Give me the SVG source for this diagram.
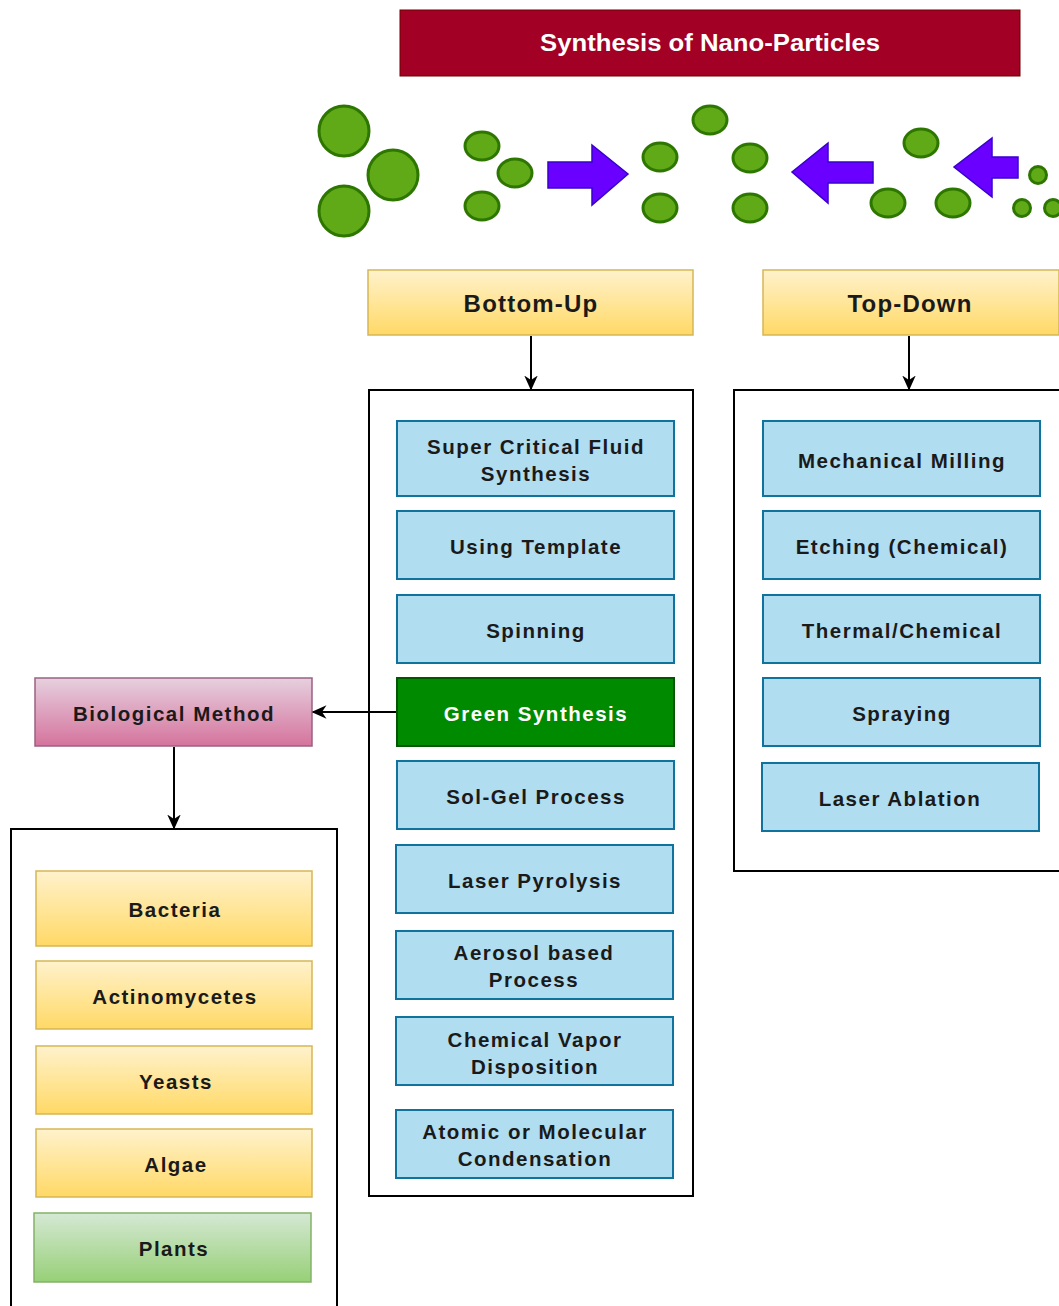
<svg xmlns="http://www.w3.org/2000/svg" width="1059" height="1306" viewBox="0 0 1059 1306">
<defs>
<linearGradient id="gY" x1="0" y1="0" x2="0" y2="1"><stop offset="0" stop-color="#fff2cc"/><stop offset="1" stop-color="#ffd966"/></linearGradient>
<linearGradient id="gP" x1="0" y1="0" x2="0" y2="1"><stop offset="0" stop-color="#e6d0de"/><stop offset="1" stop-color="#d5739d"/></linearGradient>
<linearGradient id="gG" x1="0" y1="0" x2="0" y2="1"><stop offset="0" stop-color="#d5e8d4"/><stop offset="1" stop-color="#97d077"/></linearGradient>
<marker id="ah" viewBox="0 0 10 10" refX="9" refY="5" markerWidth="15" markerHeight="15" orient="auto" markerUnits="userSpaceOnUse">
<path d="M0,0.5 L10,5 L0,9.5 L3,5 Z" fill="#000"/>
</marker>
</defs>
<style>
text{font-family:"Liberation Sans",Arial,sans-serif;font-weight:bold;text-anchor:middle;dominant-baseline:central;fill:#1a1a1a;font-size:20.5px;letter-spacing:1.5px}
.y{fill:url(#gY);stroke:#d6b656;stroke-width:1.5}
.b{fill:#b1ddf0;stroke:#10739e;stroke-width:2}
.c{fill:#fff;stroke:#000;stroke-width:2}
.p{fill:#60a917;stroke:#2d7600;stroke-width:3}
.ar{fill:#6a00ff;stroke:#3700cc;stroke-width:1.5}
.cn{stroke:#000;stroke-width:2;fill:none;marker-end:url(#ah)}
</style>
<rect width="1059" height="1306" fill="#fff"/>
<g id="title"><rect x="400" y="10" width="620" height="66" fill="#a20025" stroke="#6f0000" stroke-width="1"/><text x="710" y="43" style="fill:#fff;font-size:23px;letter-spacing:0" textLength="340" lengthAdjust="spacingAndGlyphs">Synthesis of Nano-Particles</text></g>
<g id="particles">
<circle class="p" cx="344" cy="131" r="25"/><circle class="p" cx="393" cy="175" r="25"/><circle class="p" cx="344" cy="211" r="25"/>
<ellipse class="p" cx="482" cy="146" rx="17" ry="14"/><ellipse class="p" cx="515" cy="173" rx="17" ry="14"/><ellipse class="p" cx="482" cy="206" rx="17" ry="14"/>
<path class="ar" d="M548,162 L592,162 L592,145 L628,174 L592,205 L592,188 L548,188 Z"/>
<ellipse class="p" cx="660" cy="157" rx="17" ry="14"/><ellipse class="p" cx="660" cy="208" rx="17" ry="14"/>
<ellipse class="p" cx="710" cy="120" rx="17" ry="14"/><ellipse class="p" cx="750" cy="158" rx="17" ry="14"/><ellipse class="p" cx="750" cy="208" rx="17" ry="14"/>
<path class="ar" d="M873,162 L828,162 L828,143 L792,172 L828,203 L828,183 L873,183 Z"/>
<ellipse class="p" cx="888" cy="203" rx="17" ry="14"/><ellipse class="p" cx="921" cy="143" rx="17" ry="14"/><ellipse class="p" cx="953" cy="203" rx="17" ry="14"/>
<path class="ar" d="M1018,157 L992,157 L992,138 L954,167 L992,197 L992,178 L1018,178 Z"/>
<circle class="p" cx="1038" cy="175" r="8.5"/><circle class="p" cx="1022" cy="208" r="8.5"/><circle class="p" cx="1053" cy="208" r="8.5"/>
</g>
<g id="bottom-up"><rect class="y" x="368" y="270" width="325" height="65"/><text x="531" y="303" style="font-size:24px;letter-spacing:1.2px">Bottom-Up</text></g>
<g id="top-down"><rect class="y" x="763" y="270" width="296" height="65"/><text x="910" y="303" style="font-size:24px;letter-spacing:1.2px">Top-Down</text></g>
<g id="bu-container"><rect class="c" x="369" y="390" width="324" height="806"/></g>
<g id="td-container"><rect class="c" x="734" y="390" width="330" height="481"/></g>
<g id="bio-container"><rect class="c" x="11" y="829" width="326" height="490"/></g>
<g id="n-scf"><rect class="b" x="397" y="421" width="277" height="75"/><text x="536" y="446">Super Critical Fluid</text><text x="536" y="473">Synthesis</text></g>
<g id="n-template"><rect class="b" x="397" y="511" width="277" height="68"/><text x="536" y="546">Using Template</text></g>
<g id="n-spinning"><rect class="b" x="397" y="595" width="277" height="68"/><text x="536" y="630">Spinning</text></g>
<g id="n-green"><rect x="397" y="678" width="277" height="68" fill="#008a00" stroke="#005700" stroke-width="2"/><text x="536" y="713" style="fill:#fff">Green Synthesis</text></g>
<g id="n-solgel"><rect class="b" x="397" y="761" width="277" height="68"/><text x="536" y="796">Sol-Gel Process</text></g>
<g id="n-pyro"><rect class="b" x="396" y="845" width="277" height="68"/><text x="535" y="880">Laser Pyrolysis</text></g>
<g id="n-aerosol"><rect class="b" x="396" y="931" width="277" height="68"/><text x="534" y="952">Aerosol based</text><text x="534" y="979">Process</text></g>
<g id="n-cvd"><rect class="b" x="396" y="1017" width="277" height="68"/><text x="535" y="1039">Chemical Vapor</text><text x="535" y="1066">Disposition</text></g>
<g id="n-atomic"><rect class="b" x="396" y="1110" width="277" height="68"/><text x="535" y="1131">Atomic or Molecular</text><text x="535" y="1158">Condensation</text></g>
<g id="n-milling"><rect class="b" x="763" y="421" width="277" height="75"/><text x="902" y="460">Mechanical Milling</text></g>
<g id="n-etching"><rect class="b" x="763" y="511" width="277" height="68"/><text x="902" y="546">Etching (Chemical)</text></g>
<g id="n-thermal"><rect class="b" x="763" y="595" width="277" height="68"/><text x="902" y="630">Thermal/Chemical</text></g>
<g id="n-spraying"><rect class="b" x="763" y="678" width="277" height="68"/><text x="902" y="713">Spraying</text></g>
<g id="n-ablation"><rect class="b" x="762" y="763" width="277" height="68"/><text x="900" y="798">Laser Ablation</text></g>
<g id="n-bio"><rect x="35" y="678" width="277" height="68" fill="url(#gP)" stroke="#996185" stroke-width="1.5"/><text x="174" y="713">Biological Method</text></g>
<g id="n-bacteria"><rect class="y" x="36" y="871" width="276" height="75"/><text x="175" y="909">Bacteria</text></g>
<g id="n-actino"><rect class="y" x="36" y="961" width="276" height="68"/><text x="175" y="996">Actinomycetes</text></g>
<g id="n-yeasts"><rect class="y" x="36" y="1046" width="276" height="68"/><text x="176" y="1081">Yeasts</text></g>
<g id="n-algae"><rect class="y" x="36" y="1129" width="276" height="68"/><text x="176" y="1164">Algae</text></g>
<g id="n-plants"><rect x="34" y="1213" width="277" height="69" fill="url(#gG)" stroke="#82b366" stroke-width="1.5"/><text x="174" y="1248">Plants</text></g>
<g id="connectors">
<line class="cn" x1="531" y1="336" x2="531" y2="389"/>
<line class="cn" x1="909" y1="336" x2="909" y2="389"/>
<line class="cn" x1="396" y1="712" x2="313" y2="712"/>
<line class="cn" x1="174" y1="747" x2="174" y2="828"/>
</g>
</svg>
